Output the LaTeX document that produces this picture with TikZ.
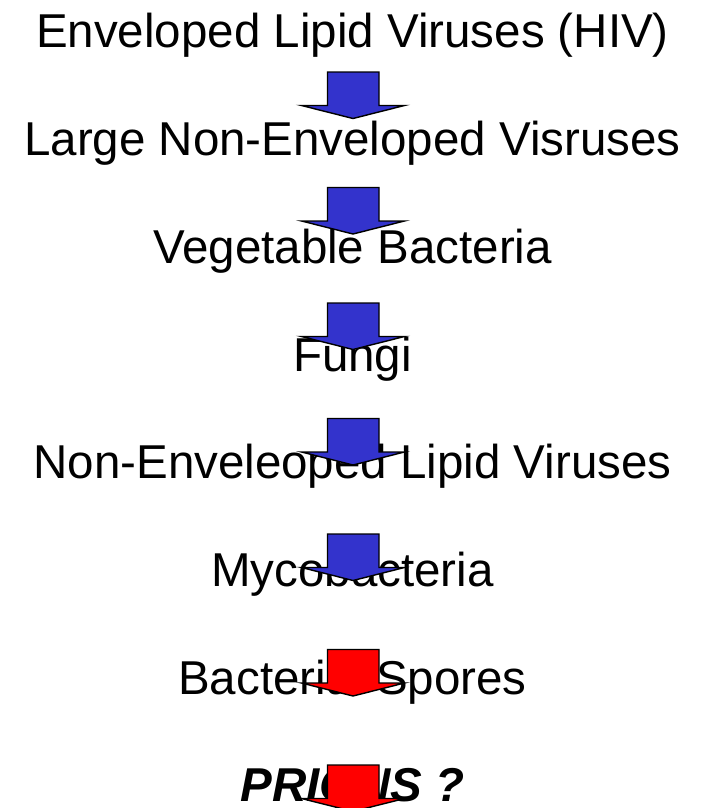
\documentclass[tikz,border=0pt]{standalone}
\usepackage{fontspec}
\setmainfont{Liberation Sans}
\usepackage{tikz}
\definecolor{arrowblue}{RGB}{51,51,204}
\definecolor{arrowred}{RGB}{255,0,0}

\begin{document}
\begin{tikzpicture}[x=1pt,y=-1pt,
    stage/.style={anchor=base,inner sep=0pt,font=\fontsize{47.5}{57}\selectfont},
    blockarrow/.style={draw=black,line width=1.4pt,line join=miter}]
    \useasboundingbox (0,0) rectangle (705,808);
    \node[stage] (env) at (352.5,48){Enveloped Lipid Viruses (HIV)};
    \node[stage] (large) at (352.5,155.7){Large Non-Enveloped Visruses};
    \node[stage] (veg) at (352.5,263.4){Vegetable Bacteria};
    \node[stage] (fungi) at (352.5,371.1){Fungi};
    \node[stage] (nonenv) at (352.5,478.8){Non-Enveleoped Lipid Viruses};
    \node[stage] (myco) at (352.5,586.5){Mycobacteria};
    \node[stage] (spores) at (352.5,694.2){Bacterial Spores};
    \node[stage,font=\fontsize{47.5}{57}\selectfont\bfseries\itshape] (prions) at (352.5,801.9){PRIONS ?};
    % block arrows, drawn over the text
    \foreach \top/\col in {72/arrowblue,187.5/arrowblue,303/arrowblue,418.5/arrowblue,534/arrowblue,649.5/arrowred,765/arrowred}
      \draw[blockarrow,fill=\col] (327.5,\top)--(379,\top)--(379,\top+33.5)--(404.5,\top+33.5)
        --(353,\top+46.5)--(301.5,\top+33.5)--(327.5,\top+33.5)--cycle;
  \end{tikzpicture}
\end{document}
